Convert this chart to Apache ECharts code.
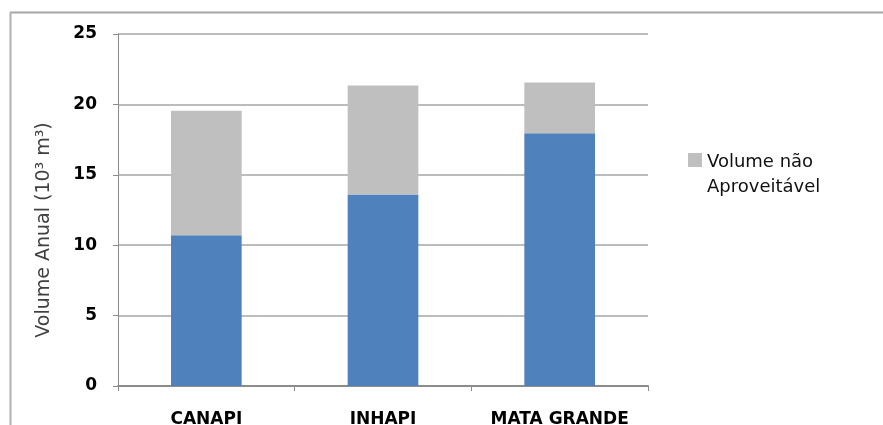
<!DOCTYPE html>
<html>
<head>
<meta charset="utf-8">
<script src="https://cdn.jsdelivr.net/npm/echarts@6/dist/echarts.min.js"></script>
<style>
html,body{margin:0;padding:0;background:#fff;}
#c{width:883px;height:425px;}
</style>
</head>
<body>
<div id="c"></div>
<script>
var categories = ['CANAPI', 'INHAPI', 'MATA GRANDE'];
var aproveitavel = [10.7, 13.6, 17.95];
var naoAproveitavel = [8.85, 7.75, 3.6];
var yTicks = [0, 5, 10, 15, 20, 25];

var chart = echarts.init(document.getElementById('c'));
chart.setOption({
  animation: false,
  backgroundColor: '#fff',
  graphic: [
    {type: 'line', shape: {x1: 10, y1: 12.5, x2: 883, y2: 12.5}, style: {stroke: '#a6a6a6', lineWidth: 2}},
    {type: 'line', shape: {x1: 10.5, y1: 12, x2: 10.5, y2: 425}, style: {stroke: '#b0b0b0', lineWidth: 2}}
  ],
  grid: {left: 118, top: 34, right: 235, bottom: 39, outerBoundsMode: 'none', containLabel: false},
  legend: {
    data: ['Volume não Aproveitável'],
    left: 683, top: 125,
    orient: 'vertical',
    itemWidth: 14, itemHeight: 14, itemGap: 4,
    icon: 'rect',
    formatter: function(){ return '{s| }\n{a|Volume não}\n{a|Aproveitável}'; },
    textStyle: {
      fontFamily: 'DejaVu Sans', fontSize: 18, color: '#111',
      rich: {
        s: {fontSize: 10, lineHeight: 29},
        a: {fontFamily: 'DejaVu Sans', fontSize: 18, color: '#111', lineHeight: 25}
      }
    }
  },
  xAxis: {
    type: 'category',
    data: categories,
    axisLine: {lineStyle: {color: '#8c8c8c', width: 2}},
    axisTick: {show: true, length: 5, lineStyle: {color: '#8c8c8c'}},
    axisLabel: {interval: 0, fontFamily: 'DejaVu Sans', fontWeight: 'bold', fontSize: 17, color: '#000', margin: 25}
  },
  yAxis: {
    type: 'value',
    min: yTicks[0], max: yTicks[yTicks.length - 1], interval: 5,
    name: 'Volume Anual (10³ m³)',
    nameLocation: 'middle',
    nameGap: 64,
    nameTextStyle: {fontFamily: 'DejaVu Sans', fontSize: 19, color: '#404040', padding: [0, 40, 0, 0]},
    axisLine: {show: true, lineStyle: {color: '#8c8c8c', width: 1}},
    axisTick: {show: true, length: 5, lineStyle: {color: '#8c8c8c'}},
    axisLabel: {fontFamily: 'DejaVu Sans', fontWeight: 'bold', fontSize: 17, color: '#000', margin: 21},
    splitLine: {lineStyle: {color: '#a6a6a6', width: 1.5}}
  },
  series: [
    {name: 'Volume Aproveitável', type: 'bar', stack: 'v', data: aproveitavel, barWidth: '40%', itemStyle: {color: '#4F81BD'}},
    {name: 'Volume não Aproveitável', type: 'bar', stack: 'v', data: naoAproveitavel, barWidth: '40%', itemStyle: {color: '#BFBFBF'}}
  ]
});
</script>
</body>
</html>
